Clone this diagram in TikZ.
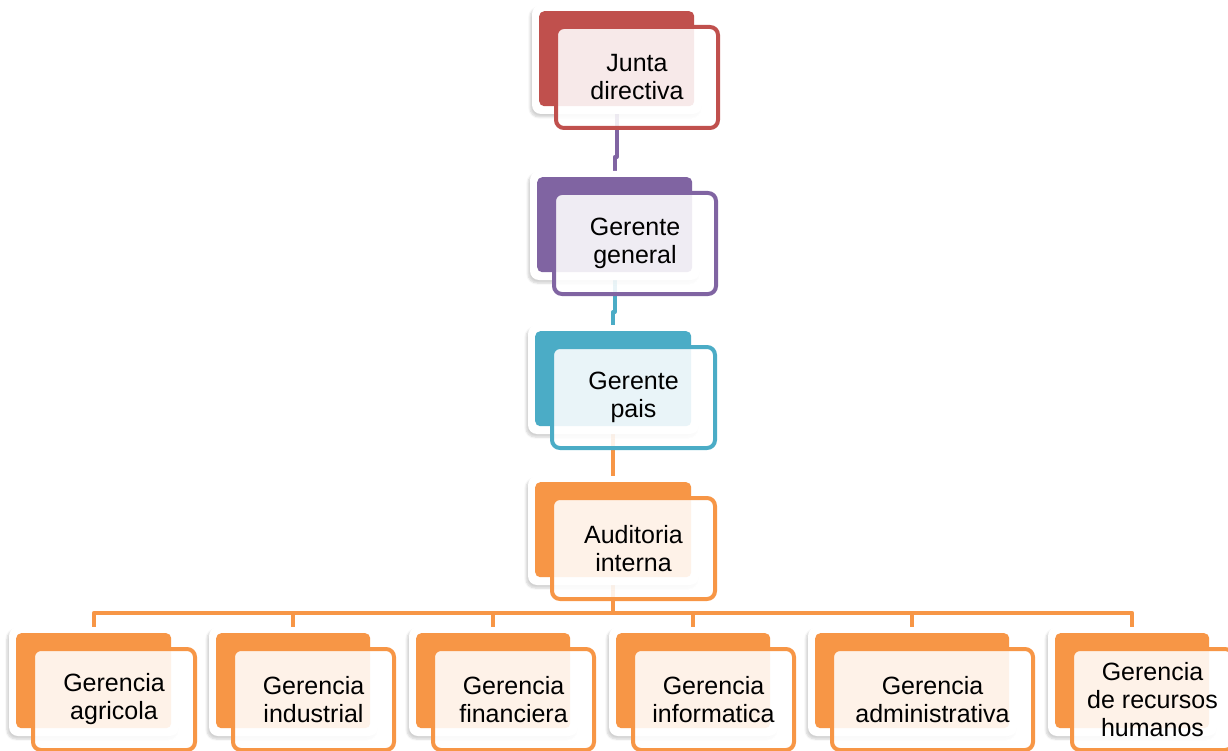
\documentclass[tikz,border=0pt]{standalone}
\usepackage{fontspec}
\setmainfont{Liberation Sans}
\usetikzlibrary{shadows,shadows.blur,calc}
\definecolor{cred}{HTML}{C0504D}
\definecolor{cpurple}{HTML}{8064A2}
\definecolor{ccyan}{HTML}{4BACC6}
\definecolor{corange}{HTML}{F79646}
\pgfdeclarelayer{bg}
\pgfsetlayers{bg,main}
% name, x, y, w, h, color, text
\newcommand\orgbox[7]{%
  \path[card] (#2-7,#3-6) rectangle ++(#4+15,#5+14);
  \node[back=#6, minimum width=#4pt, minimum height=#5pt] (#1b) at (#2,#3) {};
  \node[front=#6, minimum width={#4pt+7pt}, minimum height={#5pt+6pt}] (#1) at (#2+15,#3+14) {#7};
}
\begin{document}
\begin{tikzpicture}[x=1pt,y=-1pt,
  card/.style={fill=white, rounded corners=9pt,
    blur shadow={shadow xshift=-2pt,shadow yshift=-3pt,shadow opacity=18,shadow blur steps=6,shadow blur extra rounding=2pt}},
  back/.style={fill=#1, rounded corners=5pt, inner sep=0pt, anchor=north west},
  front/.style={draw=#1, line width=4pt, fill=white, fill opacity=0.88, text opacity=1,
    rounded corners=8pt, anchor=north west, inner sep=0pt, align=center,
    font=\fontsize{25}{28}\selectfont},
  conn/.style={draw=#1, line width=4pt, line join=round}
]
\useasboundingbox (0,0) rectangle (1228,751);

\orgbox{J}{539}{11}{155}{95}{cred}{Junta\\directiva}
\orgbox{G}{537}{177}{155}{95}{cpurple}{Gerente\\general}
\orgbox{P}{535}{331}{156}{95}{ccyan}{Gerente\\pais}
\orgbox{A}{535}{482}{156}{95}{corange}{Auditoria\\interna}
\orgbox{B1}{16}{633}{155}{95}{corange}{Gerencia\\agricola}
\orgbox{B2}{216}{633}{154}{95}{corange}{Gerencia\\industrial}
\orgbox{B3}{416}{633}{154}{95}{corange}{Gerencia\\financiera}
\orgbox{B4}{616}{633}{154}{95}{corange}{Gerencia\\informatica}
\orgbox{B5}{815}{633}{194}{95}{corange}{Gerencia\\administrativa}
\orgbox{B6}{1055}{633}{154}{95}{corange}{Gerencia\\de recursos\\humanos}

\coordinate (busJ) at (0,157);
\coordinate (busG) at (0,312);
\coordinate (busP) at (0,465);
\coordinate (busA) at (0,613);

\begin{pgfonlayer}{bg}
\draw[conn=cpurple] (Jb.south) -- (Jb.south |- busJ) -| (Gb.north);
\draw[conn=ccyan] (Gb.south) -- (Gb.south |- busG) -| (Pb.north);
\draw[conn=corange] (Pb.south) -- (Pb.south |- busP) -| (Ab.north);
\foreach \b in {B1,B2,B3,B4,B5,B6}{
  \draw[conn=corange] (Ab.south) -- (Ab.south |- busA) -| (\b b.north);
}
\end{pgfonlayer}
\end{tikzpicture}
\end{document}
